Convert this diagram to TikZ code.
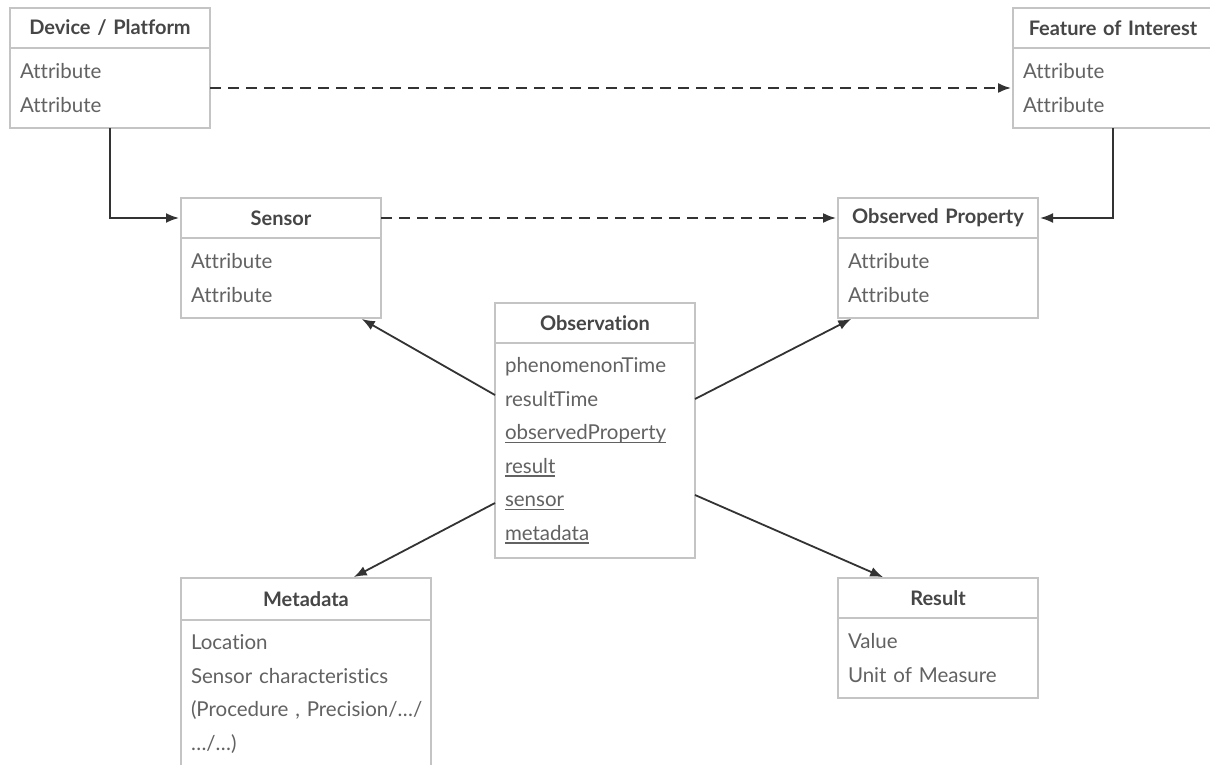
\documentclass[tikz,border=0pt]{standalone}
\usepackage{fontspec}
\setmainfont{Lato}[Ligatures=NoCommon]
\usetikzlibrary{arrows.meta,positioning,calc}
\definecolor{boxgray}{HTML}{C4C4C4}
\definecolor{headink}{HTML}{464646}
\definecolor{bodyink}{HTML}{626262}
\definecolor{linkink}{HTML}{333333}
% underlined attribute (link to another class)
\newsavebox{\keybox}
\newcommand{\keyattr}[1]{\leavevmode\sbox{\keybox}{#1}\rlap{\rule[-3.5pt]{\wd\keybox}{1.2pt}}\usebox{\keybox}}
\tikzset{
  classhead/.style={
    draw=boxgray,
    line width=1.6pt,
    fill=white,
    outer sep=0pt,
    inner xsep=10pt,
    inner ysep=0pt,
    minimum height=40pt,
    text width=#1,
    align=center,
    text=headink,
    font=\fontsize{20}{24}\selectfont\bfseries
  },
  classbody/.style={
    draw=boxgray,
    line width=1.6pt,
    fill=white,
    outer sep=0pt,
    inner xsep=10pt,
    inner ysep=0pt,
    text width=#1,
    align=left,
    text=bodyink,
    font=\fontsize{20.5}{33.5}\selectfont
  },
  link/.style={
    -{Latex[length=13pt,width=10pt]},
    line width=1.8pt,
    draw=linkink,
    shorten >=2pt
  },
  dashlink/.style={
    link,
    dash pattern=on 11pt off 7pt
  }
}

\begin{document}
\begin{tikzpicture}[x=1pt,y=-1pt]
\useasboundingbox[fill=white] (0,0) rectangle (1210,765);
% class boxes
\node[classhead=180pt, anchor=north west] (device) at (10,8) {Device / Platform};
\node[classbody=180pt, minimum height=80pt, below=0pt of device] (deviceattr) {Attribute\\Attribute};
\node[classhead=180pt, anchor=north west] (feature) at (1013,8) {Feature of Interest};
\node[classbody=180pt, minimum height=80pt, below=0pt of feature] (featureattr) {Attribute\\Attribute};
\node[classhead=180pt, anchor=north west] (sensor) at (181,198) {Sensor};
\node[classbody=180pt, minimum height=80pt, below=0pt of sensor] (sensorattr) {Attribute\\Attribute};
\node[classhead=180pt, anchor=north west] (obsprop) at (838,198) {Observed Property};
\node[classbody=180pt, minimum height=80pt, below=0pt of obsprop] (obspropattr) {Attribute\\Attribute};
\node[classhead=180pt, anchor=north west] (observation) at (495,303) {Observation};
\node[classbody=180pt, minimum height=215pt, below=0pt of observation] (observationattr)
  {phenomenonTime\\resultTime\\\keyattr{observedProperty}\\\keyattr{result}\\\keyattr{sensor}\\\keyattr{metadata}};
\node[classhead=230pt, anchor=north west, minimum height=42pt] (metadata) at (181,578) {Metadata};
\node[classbody=230pt, minimum height=148pt, below=0pt of metadata] (metadataattr)
  {Location\\Sensor characteristics\\\mbox{(Procedure , Precision/…/}\\…/…)};
\node[classhead=180pt, anchor=north west] (result) at (838,578) {Result};
\node[classbody=180pt, minimum height=80pt, below=0pt of result] (resultattr) {Value\\Unit of Measure};
% connectors
\draw[link] (deviceattr.south) |- (sensor.west);
\draw[dashlink] (deviceattr.east) -- (featureattr.west);
\draw[link] (featureattr.south) |- (obsprop.east);
\draw[dashlink] (sensor.east) -- (obsprop.west);
\draw[link] ($(observationattr.north west)+(0,52)$) -- ($(sensorattr.south east)+(-21,0)$);
\draw[link] ($(observationattr.north east)+(0,56)$) -- ($(obspropattr.south west)+(15,0)$);
\draw[link] ($(observationattr.north west)+(0,160)$) -- ($(metadata.north east)+(-79,0)$);
\draw[link] ($(observationattr.north east)+(0,152)$) -- ($(result.north west)+(47,0)$);
\end{tikzpicture}
\end{document}
